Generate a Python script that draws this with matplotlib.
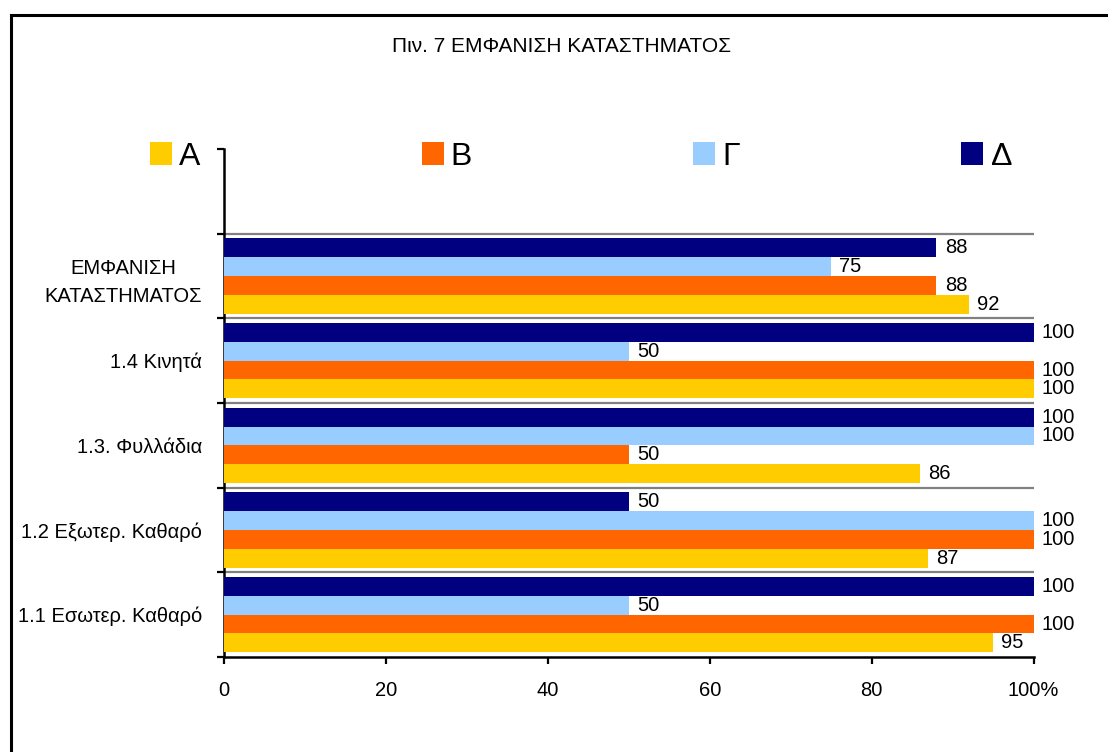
import numpy as np
import matplotlib.pyplot as plt
from matplotlib.lines import Line2D
from matplotlib.patches import Patch
from matplotlib import font_manager

# Categories from bottom to top; the topmost band stays empty (legend row)
categories = ["1.1 Εσωτερ. Καθαρό", "1.2 Εξωτερ. Καθαρό", "1.3. Φυλλάδια",
              "1.4 Κινητά", "ΕΜΦΑΝΙΣΗ\nΚΑΤΑΣΤΗΜΑΤΟΣ"]
series_names = ["Α", "Β", "Γ", "Δ"]
vals_a = [95, 87, 86, 100, 92]
vals_b = [100, 100, 50, 100, 88]
vals_g = [50, 100, 100, 50, 75]
vals_d = [100, 50, 100, 100, 88]
x_ticks = [0, 20, 40, 60, 80, 100]
x_labels = ["0", "20", "40", "60", "80", "100%"]
title = "Πιν. 7 ΕΜΦΑΝΙΣΗ ΚΑΤΑΣΤΗΜΑΤΟΣ"

colors = ["#FFCC00", "#FF6600", "#99CCFF", "#000080"]

installed = {f.name for f in font_manager.fontManager.ttflist}
narrow = "Liberation Sans Narrow" if "Liberation Sans Narrow" in installed else "Liberation Sans"
plt.rcParams['font.family'] = ['Liberation Sans', 'DejaVu Sans']

W, H = 1108, 752
fig = plt.figure(figsize=(W / 100, H / 100), dpi=100)
ax = fig.add_axes([224 / W, 1 - 657 / H, 809.5 / W, 508 / H])

n_cat = len(categories)
y = np.arange(n_cat)
bar_h = 0.222
offsets = [-1.5 * bar_h, -0.5 * bar_h, 0.5 * bar_h, 1.5 * bar_h]
all_vals = [vals_a, vals_b, vals_g, vals_d]

for vals, off, col in zip(all_vals, offsets, colors):
    bars = ax.barh(y + off, vals, height=bar_h, color=col, zorder=3)
    for b, v in zip(bars, vals):
        ax.annotate(str(v), (b.get_width(), b.get_y() + b.get_height() / 2),
                    xytext=(6, 0), textcoords='offset points',
                    ha='left', va='center', fontsize=14.5, zorder=4,
                    annotation_clip=False)

# band separators between category groups
for yb in np.arange(0.5, n_cat, 1.0):
    ax.axhline(yb, color='#808080', lw=1.6, zorder=1)

ax.set_xlim(0, 100)
ax.set_ylim(-0.5, n_cat + 0.5)
ax.set_xticks(x_ticks)
ax.set_xticklabels(x_labels, fontsize=14.5)
ax.set_yticks(y)
ax.set_yticklabels(categories, fontsize=14.5, linespacing=1.6,
                   multialignment='center')
ax.set_yticks(np.arange(-0.5, n_cat + 1, 1.0), minor=True)
ax.tick_params(axis='y', which='major', length=0, pad=16)
ax.tick_params(axis='y', which='minor', length=5, width=1.6, direction='out')
ax.tick_params(axis='x', length=5, width=1.6, direction='out', pad=12)

for s in ['top', 'right']:
    ax.spines[s].set_visible(False)
for s in ['left', 'bottom']:
    ax.spines[s].set_linewidth(1.8)

handles = [Patch(facecolor=c, edgecolor='none') for c in colors]
fig.legend(handles, series_names, loc='lower left', ncol=4, mode='expand',
           bbox_to_anchor=(150 / W, 1 - 172 / H, 862 / W, 30 / H),
           frameon=False, fontsize=23, handlelength=0.69, handleheight=0.72,
           handletextpad=0.22, borderpad=0, borderaxespad=0)

fig.text(562 / W, 1 - 47 / H, title, ha='center', va='center',
         fontsize=15, family=[narrow, 'DejaVu Sans'])

# outer chart frame (left and top edges)
fig.add_artist(Line2D([11 / W, 11 / W], [0, 1 - 14.5 / H], color='black', lw=2.2))
fig.add_artist(Line2D([11 / W, 1], [1 - 14.5 / H, 1 - 14.5 / H], color='black', lw=2.2))

fig.savefig('out.png', dpi=100, facecolor='white')
